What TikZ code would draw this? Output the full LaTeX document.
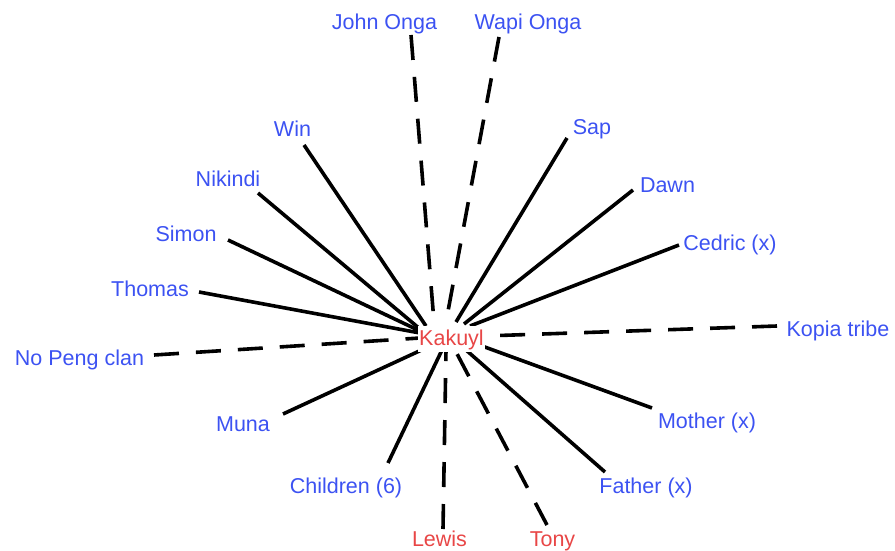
\documentclass[tikz,border=0pt]{standalone}
\usepackage{fontspec}
\setmainfont{Liberation Sans}
\definecolor{lblblue}{RGB}{60,82,242}
\definecolor{lblred}{RGB}{232,70,70}
\begin{document}
\begin{tikzpicture}[x=1pt,y=-1pt,
  lbl/.style={anchor=base,inner sep=0pt,font=\fontsize{21.5}{24}\selectfont,text=lblblue},
  redlbl/.style={lbl,text=lblred},
  link/.style={line width=3.6pt,black},
  dlink/.style={link,dash pattern=on 25pt off 17pt}]
\useasboundingbox (0,0) rectangle (895,551);
% labels
\node[lbl] (john)   at (384.5,30) {John Onga};
\node[lbl] (wapi)   at (528,30) {Wapi Onga};
\node[lbl] (win)    at (292.5,136) {Win};
\node[lbl] (sap)    at (592,135) {Sap};
\node[lbl] (nik)    at (228,186) {Nikindi};
\node[lbl] (dawn)   at (667.5,192) {Dawn};
\node[lbl] (simon)  at (186,241) {Simon};
\node[lbl] (cedric) at (730,250) {Cedric (x)};
\node[lbl] (thomas) at (150,296) {Thomas};
\node[lbl] (kopia)  at (838,336) {Kopia tribe};
\node[lbl] (nopeng) at (79.5,365) {No Peng clan};
\node[lbl] (muna)   at (243,431) {Muna};
\node[lbl] (mother) at (707,428) {Mother (x)};
\node[lbl] (child)  at (346,493) {Children (6)};
\node[lbl] (father) at (646,493) {Father (x)};
\node[redlbl] (lewis) at (439.5,546) {Lewis};
\node[redlbl] (tony)  at (552.5,546) {Tony};
% connector ends
\coordinate (johnE)   at (411,35);   \coordinate (johnI)   at (434,322);
\coordinate (wapiE)   at (499,37);   \coordinate (wapiI)   at (446,322);
\coordinate (winE)    at (304,145);  \coordinate (winI)    at (426,326);
\coordinate (nikE)    at (258,193);  \coordinate (nikI)    at (420,329);
\coordinate (simonE)  at (228,240);  \coordinate (simonI)  at (420,331);
\coordinate (thomasE) at (199,292);  \coordinate (thomasI) at (420,333);
\coordinate (nopengE) at (154,355);  \coordinate (nopengI) at (420,338);
\coordinate (munaE)   at (283,414);  \coordinate (munaI)   at (428,347);
\coordinate (childE)  at (388,463);  \coordinate (childI)  at (442,350);
\coordinate (lewisE)  at (443,529);  \coordinate (lewisI)  at (446,350);
\coordinate (tonyE)   at (547,525);  \coordinate (tonyI)   at (455,350);
\coordinate (fatherE) at (605,472);  \coordinate (fatherI) at (466,350);
\coordinate (motherE) at (652,408);  \coordinate (motherI) at (482,346);
\coordinate (kopiaE)  at (777,326);  \coordinate (kopiaI)  at (484,336);
\coordinate (cedricE) at (679,245);  \coordinate (cedricI) at (470,326);
\coordinate (dawnE)   at (633,190);  \coordinate (dawnI)   at (464,324);
\coordinate (sapE)    at (567,138);  \coordinate (sapI)    at (456,322);
% connectors
\draw[dlink] (johnE) -- (johnI);
\draw[dlink] (wapiE) -- (wapiI);
\draw[link] (winE) -- (winI);
\draw[link] (nikE) -- (nikI);
\draw[link] (simonE) -- (simonI);
\draw[link] (thomasE) -- (thomasI);
\draw[dlink] (nopengE) -- (nopengI);
\draw[link] (munaE) -- (munaI);
\draw[link] (childE) -- (childI);
\draw[dlink] (lewisE) -- (lewisI);
\draw[dlink] (tonyE) -- (tonyI);
\draw[link] (fatherE) -- (fatherI);
\draw[link] (motherE) -- (motherI);
\draw[dlink] (kopiaE) -- (kopiaI);
\draw[link] (cedricE) -- (cedricI);
\draw[link] (dawnE) -- (dawnI);
\draw[link] (sapE) -- (sapI);
% centre
\node[redlbl,fill=white,inner xsep=1pt,inner ysep=3pt] (kak) at (451.5,345) {Kakuyl};
\end{tikzpicture}
\end{document}
